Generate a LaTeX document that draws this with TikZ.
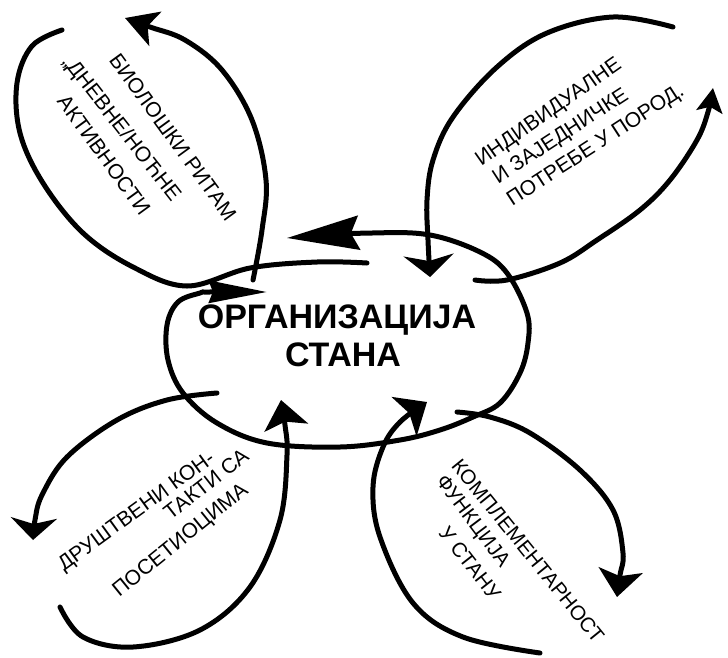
\documentclass[tikz,border=0pt]{standalone}
\usepackage{fontspec}
\setmainfont{Liberation Sans}
\usetikzlibrary{arrows.meta}
\begin{document}
\begin{tikzpicture}[x=1pt,y=-1pt,
  pen/.style={line width=5pt,line cap=round,line join=round},
  lbl/.style={inner sep=0pt,font=\fontsize{21}{23}\selectfont},
  ctr/.style={inner sep=0pt,font=\fontsize{34}{40}\selectfont\bfseries},
]
\fill[white] (0,0) rectangle (728,657);
\useasboundingbox (0,0) rectangle (728,657);

% named end points
\coordinate (eTop) at (287,238);
\coordinate (eEnd) at (267,292);
\coordinate (s1a) at (62,30);   \coordinate (s1b) at (367,263);
\coordinate (s2a) at (253,280); \coordinate (s2b) at (125,18);
\coordinate (s3a) at (673,27);  \coordinate (s3b) at (430,277);
\coordinate (s4a) at (475,280); \coordinate (s4b) at (713,88);
\coordinate (s5a) at (217,393); \coordinate (s5b) at (33,540);
\coordinate (s6a) at (60,607);  \coordinate (s6b) at (281,400);
\coordinate (s7a) at (540,653); \coordinate (s7b) at (427,402);
\coordinate (s8a) at (457,412); \coordinate (s8b) at (617,597);

% central open ellipse with two arrow heads
\draw[pen,{Stealth[length=72pt,width=34pt,inset=8pt]}-{Stealth[length=58pt,width=22pt,inset=4pt]}]
  plot[smooth,tension=0.6] coordinates {(eTop) (372,233) (430,235) (480,252) (507,273) (527,313) (528,343) (520,373) (500,403) (473,417) (440,430) (400,440) (340,447) (267,443) (217,423) (183,393) (168,360) (167,325) (178,302) (200,293) (209,292) (eEnd)};

% top-left petal
\draw[pen] plot[smooth,tension=0.6] coordinates {(s1a) (32,46) (17,83) (20,133) (43,183) (83,233) (133,267) (187,286) (250,268) (317,262) (s1b)};
\draw[pen,-{Stealth[length=32pt,width=36pt,inset=8pt]}] plot[smooth,tension=0.6] coordinates {(s2a) (262,230) (266,180) (252,120) (222,70) (185,40) (150,27) (s2b)};

% top-right petal
\draw[pen,-{Stealth[length=22pt,width=50pt,inset=6pt]}] plot[smooth,tension=0.6] coordinates {(s3a) (613,17) (547,33) (497,67) (453,117) (433,160) (427,200) (428,240) (s3b)};
\draw[pen,-{Stealth[length=24pt,width=26pt,inset=5pt]}] plot[smooth,tension=0.6] coordinates {(s4a) (507,280) (560,263) (597,240) (640,210) (670,180) (697,140) (708,112) (s4b)};

% bottom-left petal
\draw[pen,-{Stealth[length=22pt,width=46pt,inset=6pt]}] plot[smooth,tension=0.6] coordinates {(s5a) (167,400) (117,420) (67,457) (42,495) (35,520) (s5b)};
\draw[pen,-{Stealth[length=28pt,width=44pt,inset=6pt]}] plot[smooth,tension=0.6] coordinates {(s6a) (83,637) (133,647) (200,630) (250,587) (280,520) (287,455) (285,425) (s6b)};

% bottom-right petal
\draw[pen,-{Stealth[length=27pt,width=46pt,inset=6pt]}] plot[smooth,tension=0.6] coordinates {(s7a) (463,637) (413,603) (380,537) (373,487) (383,447) (400,422) (s7b)};
\draw[pen,-{Stealth[length=27pt,width=44pt,inset=6pt]}] plot[smooth,tension=0.6] coordinates {(s8a) (490,417) (530,433) (580,470) (613,510) (623,553) (620,575) (s8b)};

% centre text
\node[ctr] (org) at (337,320) {ОРГАНИЗАЦИЈА};
\node[ctr] (stan) at (343,355) {СТАНА};

% top-left petal text
\node[lbl,rotate=-54] (tl1) at (173,137) {БИОЛОШКИ РИТАМ};
\node[lbl,rotate=-52] (tl2) at (121,129) {„ДНЕВНЕ/НОЋНЕ};
\node[lbl,rotate=-54] (tl3) at (104,155) {АКТИВНОСТИ};

% top-right petal text
\node[lbl,rotate=35] (tr1) at (549,113) {ИНДИВИДУАЛНЕ};
\node[lbl,rotate=33] (tr2) at (561,137) {И ЗАЈЕДНИЧКЕ};
\node[lbl,rotate=33] (tr3) at (596,146) {ПОТРЕБЕ У ПОРОД.};

% bottom-left petal text
\node[lbl,rotate=36] (bl1) at (137,512) {ДРУШТВЕНИ КОН-};
\node[lbl,rotate=38] (bl2) at (206,484) {ТАКТИ СА};
\node[lbl,rotate=39] (bl3) at (181,541) {ПОСЕТИОЦИМА};

% bottom-right petal text
\node[lbl,font=\fontsize{20.5}{23}\selectfont,rotate=-51] (br1) at (528,551) {КОМПЛЕМЕНТАРНОСТ};
\node[lbl,font=\fontsize{20.5}{23}\selectfont,rotate=-53] (br2) at (472,522) {ФУНКЦИЈА};
\node[lbl,font=\fontsize{20.5}{23}\selectfont,rotate=-52] (br3) at (470,563) {У СТАНУ};
\end{tikzpicture}
\end{document}
